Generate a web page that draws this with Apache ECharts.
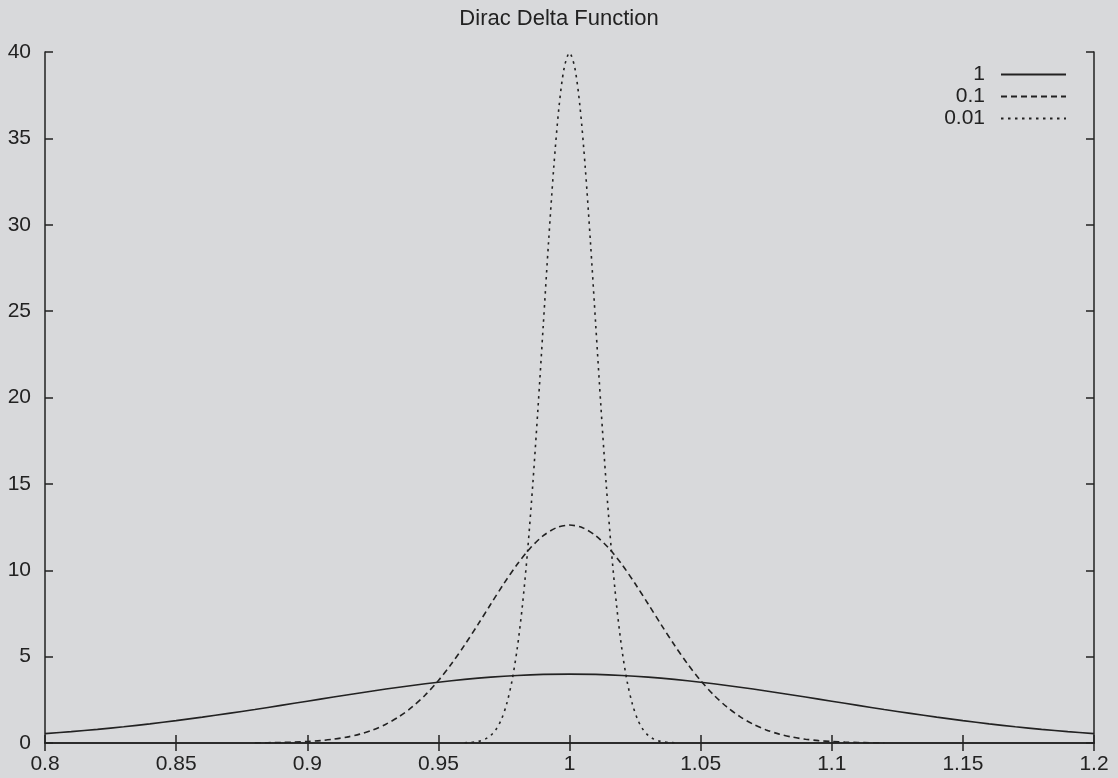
<!DOCTYPE html>
<html>
<head>
<meta charset="utf-8">
<script src="https://cdn.jsdelivr.net/npm/echarts@6/dist/echarts.min.js"></script>
<style>
html,body{margin:0;padding:0;background:#d8d9db;}
#c{width:1118px;height:778px;}
</style>
</head>
<body>
<div id="c"></div>
<script>
const titleText = 'Dirac Delta Function';
const seriesNames = ['1', '0.1', '0.01'];
const xTicks = [0.8, 0.85, 0.9, 0.95, 1, 1.05, 1.1, 1.15, 1.2];
const yTicks = [0, 5, 10, 15, 20, 25, 30, 35, 40];

const x1 = [0.80,0.81,0.82,0.83,0.84,0.85,0.86,0.87,0.88,0.89,0.90,0.91,0.92,0.93,0.94,0.95,0.96,0.97,0.98,0.99,1.00,
            1.01,1.02,1.03,1.04,1.05,1.06,1.07,1.08,1.09,1.10,1.11,1.12,1.13,1.14,1.15,1.16,1.17,1.18,1.19,1.20];
const y1 = [0.540,0.656,0.790,0.940,1.109,1.295,1.497,1.714,1.942,2.179,2.420,2.661,2.897,3.123,3.332,3.521,3.683,3.814,3.910,3.970,3.989,
            3.970,3.910,3.814,3.683,3.521,3.332,3.123,2.897,2.661,2.420,2.179,1.942,1.714,1.497,1.295,1.109,0.940,0.790,0.656,0.540];

const x2 = [0.880,0.885,0.890,0.895,0.900,0.905,0.910,0.915,0.920,0.925,0.930,0.935,0.940,0.945,0.950,0.955,0.960,0.965,0.970,0.975,0.980,0.985,0.990,0.995,1.000,
            1.005,1.010,1.015,1.020,1.025,1.030,1.035,1.040,1.045,1.050,1.055,1.060,1.065,1.070,1.075,1.080,1.085,1.090,1.095,1.100,1.105,1.110,1.115,1.120];
const y2 = [0.009,0.017,0.030,0.051,0.085,0.138,0.220,0.340,0.514,0.758,1.089,1.526,2.085,2.780,3.614,4.583,5.669,6.838,8.044,9.230,10.329,11.273,12.000,12.459,12.616,
            12.459,12.000,11.273,10.329,9.230,8.044,6.838,5.669,4.583,3.614,2.780,2.085,1.526,1.089,0.758,0.514,0.340,0.220,0.138,0.085,0.051,0.030,0.017,0.009];

const x3 = [0.960,0.962,0.964,0.966,0.968,0.970,0.972,0.974,0.976,0.978,0.980,0.982,0.984,0.986,0.988,0.990,0.992,0.994,0.996,0.998,1.000,
            1.002,1.004,1.006,1.008,1.010,1.012,1.014,1.016,1.018,1.020,1.022,1.024,1.026,1.028,1.030,1.032,1.034,1.036,1.038,1.040];
const y3 = [0.013,0.029,0.061,0.123,0.238,0.443,0.792,1.358,2.239,3.547,5.399,7.895,11.092,14.973,19.418,24.197,28.969,33.322,36.827,39.104,39.950,
            39.104,36.827,33.322,28.969,24.197,19.418,14.973,11.092,7.895,5.399,3.547,2.239,1.358,0.792,0.443,0.238,0.123,0.061,0.029,0.013];

function zip(xs, ys){ return xs.map((x,i)=>[x, ys[i]]); }

const ink = '#222';
const font = 'Liberation Sans, Arial, Helvetica, sans-serif';
const dashes = ['solid', [6,4], [2.5,4.5]];
const datas = [zip(x1,y1), zip(x2,y2), zip(x3,y3)];

const axisCommon = {
  axisLine: {show: true, lineStyle: {color: ink, width: 1.5}},
  axisTick: {show: true, inside: true, length: 8, lineStyle: {color: ink, width: 1.5}},
  splitLine: {show: false},
};

const chart = echarts.init(document.getElementById('c'), null, {renderer: 'canvas'});
chart.setOption({
  backgroundColor: '#d8d9db',
  animation: false,
  title: {
    text: titleText, left: 'center', top: 8, padding: 0,
    textStyle: {fontFamily: font, fontSize: 22, fontWeight: 'normal', color: ink}
  },
  legend: seriesNames.map((n, i) => ({
    data: [n], orient: 'vertical', right: 46, top: 59 + i * 22,
    align: 'right', itemWidth: 65, itemHeight: 12, itemGap: 0,
    itemStyle: {opacity: 0},
    textStyle: {fontFamily: font, fontSize: 21, color: ink, padding: [0, 11, 0, 0]},
    selectedMode: false
  })),
  grid: {left: 45, right: 24, top: 52, bottom: 35, containLabel: false},
  xAxis: [
    Object.assign({}, axisCommon, {
      type: 'value', min: xTicks[0], max: xTicks[xTicks.length-1], interval: 0.05, position: 'bottom',
      axisLabel: {fontFamily: font, fontSize: 21, color: ink, margin: 11, showMinLabel: true, showMaxLabel: true}
    }),
    Object.assign({}, axisCommon, {
      type: 'value', min: xTicks[0], max: xTicks[xTicks.length-1], interval: 0.05, position: 'top',
      axisLabel: {show: false}
    })
  ],
  yAxis: [
    Object.assign({}, axisCommon, {
      type: 'value', min: yTicks[0], max: yTicks[yTicks.length-1], interval: 5, position: 'left',
      axisLabel: {fontFamily: font, fontSize: 21, color: ink, margin: 14}
    }),
    Object.assign({}, axisCommon, {
      type: 'value', min: yTicks[0], max: yTicks[yTicks.length-1], interval: 5, position: 'right',
      axisLabel: {show: false}
    })
  ],
  series: seriesNames.map((n, i) => ({
    name: n, type: 'line', data: datas[i], smooth: 0.3, showSymbol: false, symbol: 'none',
    lineStyle: {color: ink, width: 1.6, type: dashes[i]},
    itemStyle: {color: ink},
    clip: true
  }))
});
</script>
</body>
</html>
